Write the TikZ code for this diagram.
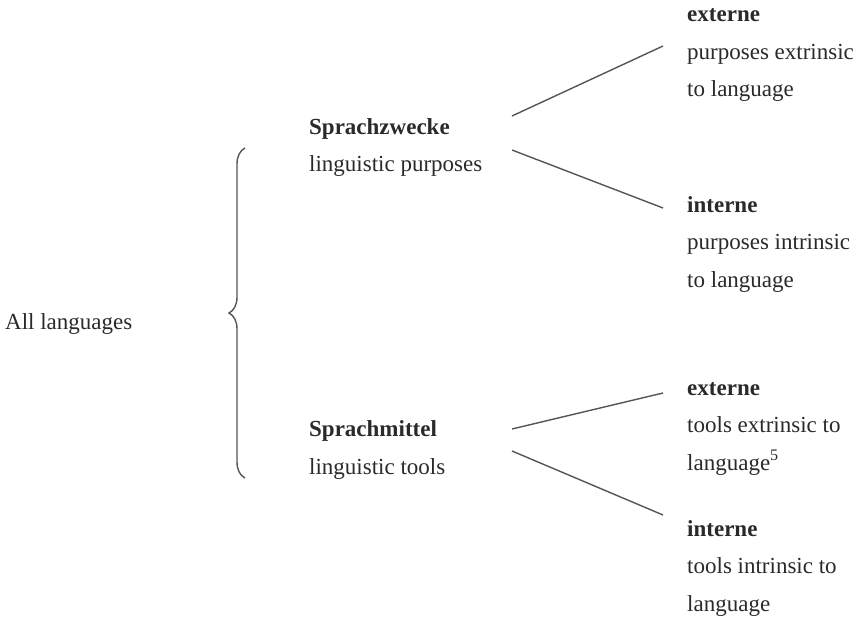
\documentclass[tikz,border=0pt]{standalone}
\usepackage{fontspec}
\setmainfont{Liberation Serif}
\usepackage{xcolor}
\usepackage{tikz}
\usetikzlibrary{calc, decorations.pathreplacing}

\definecolor{txt}{HTML}{2A2A2A}
\definecolor{ln}{HTML}{555555}

\begin{document}
\begin{tikzpicture}[
    x=1pt, y=-1pt,
    every node/.style={font=\fontsize{23}{37.5}\selectfont, text=txt,
      inner sep=0pt, align=left, anchor=base west},
    link/.style={draw=ln, line width=1.4pt}
  ]
  \useasboundingbox (0,0) rectangle (858,620);

  \node (all) at (5,329) {All languages};

  % brace
  \coordinate (braceLow) at (245,478);
  \coordinate (braceTop) at (245,148);
  \draw[ln, line width=1.4pt, decorate,
    decoration={brace, amplitude=16pt}] (braceLow) -- (braceTop);

  \node (zwecke) at (309,172) {\textbf{Sprachzwecke}\\linguistic purposes};
  \node (mittel) at (309,474) {\textbf{Sprachmittel}\\linguistic tools};

  \node (zweckeExt) at (687,97) {\textbf{externe}\\purposes extrinsic\\to language};
  \node (zweckeInt) at (687,287) {\textbf{interne}\\purposes intrinsic\\to language};
  \node (mittelExt) at (687,470) {\textbf{externe}\\tools extrinsic to\\language\textsuperscript{5}};
  \node (mittelInt) at (687,611) {\textbf{interne}\\tools intrinsic to\\language};

  \draw[link] ($(zwecke.base west)+(203,-56)$) -- ($(zweckeExt.base west)+(-24,-51)$);
  \draw[link] ($(zwecke.base west)+(203,-22)$) -- ($(zweckeInt.base west)+(-24,-79)$);
  \draw[link] ($(mittel.base west)+(203,-45)$) -- ($(mittelExt.base west)+(-24,-77)$);
  \draw[link] ($(mittel.base west)+(203,-23)$) -- ($(mittelInt.base west)+(-24,-96)$);
\end{tikzpicture}
\end{document}
